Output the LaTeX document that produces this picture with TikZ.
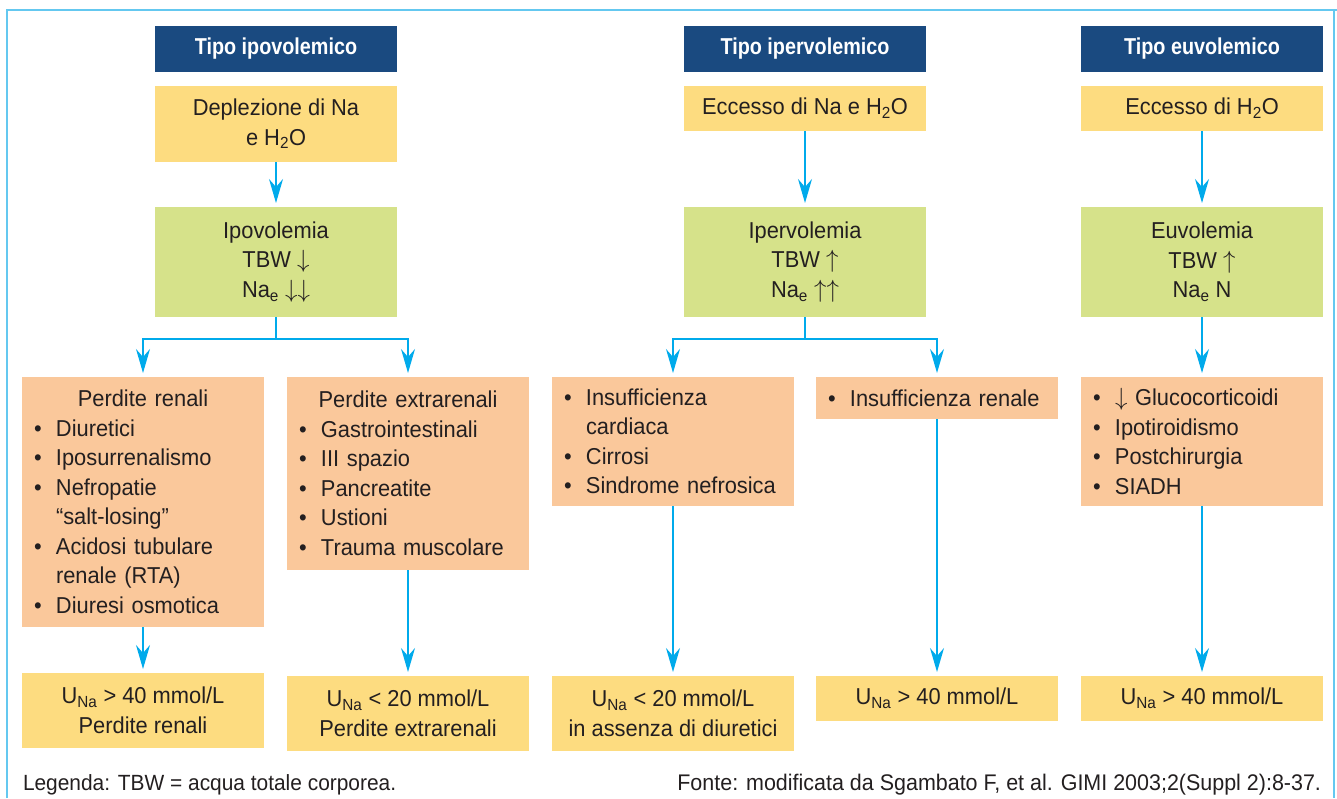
\documentclass[tikz,border=0pt]{standalone}
\usepackage{fontspec}
\setmainfont{Liberation Sans}[FakeStretch=0.95]
\newfontfamily\hdfont{Liberation Sans}[FakeStretch=0.86]
\usetikzlibrary{arrows.meta}
\definecolor{hdblue}{RGB}{26,74,128}
\definecolor{ybox}{RGB}{253,220,128}
\definecolor{gbox}{RGB}{214,226,138}
\definecolor{obox}{RGB}{250,200,155}
\definecolor{cyanarr}{RGB}{0,170,235}
\definecolor{framec}{RGB}{100,200,240}
\definecolor{txt}{RGB}{35,31,32}
\newcommand\bl{\makebox[22pt][l]{\textbullet}}
\newcommand\ind{\hspace*{22pt}}
\newcommand\dn{$\downarrow$}
\newcommand\up{$\uparrow$}
\begin{document}
\begin{tikzpicture}[x=1pt,y=-1pt,
  every node/.style={text=txt, font=\fontsize{23}{29.5}\selectfont, inner sep=0pt, outer sep=0pt},
  box/.style={anchor=north west, minimum width=242pt, align=center},
  hdbox/.style={box, fill=hdblue, minimum height=46pt, text=white, font=\hdfont\bfseries\fontsize{23}{28}\selectfont},
  ybx/.style={box, fill=ybox},
  gbx/.style={box, fill=gbox, minimum height=110pt},
  obx/.style={anchor=north west, fill=obox, text width=218pt, inner xsep=12pt, align=left},
  arr/.style={draw=cyanarr, line width=1.4pt, -{Stealth[length=24pt,width=14pt,inset=8pt]}, shorten >=4pt},
  framel/.style={draw=framec, line width=2pt},
  foot/.style={font=\fontsize{22}{26}\selectfont}
]
\useasboundingbox (0,0) rectangle (1337,798);
\draw[framel] (7,798) -- (7,10) -- (1337,10);
\draw[framel] (1334,10) -- (1334,798);

\node[hdbox] (H1) at (155,26) {Tipo ipovolemico};
\node[hdbox] (H2) at (684,26) {Tipo ipervolemico};
\node[hdbox] (H3) at (1081,26) {Tipo euvolemico};

\node[ybx, minimum height=76pt] (Y1) at (155,86) {Deplezione di Na\\e H\textsubscript{2}O};
\node[ybx, minimum height=45pt] (Y2) at (684,86) {Eccesso di Na e H\textsubscript{2}O};
\node[ybx, minimum height=45pt] (Y3) at (1081,86) {Eccesso di H\textsubscript{2}O};

\node[gbx] (G1) at (155,207) {Ipovolemia\\TBW \dn\\Na\textsubscript{e} \dn\dn};
\node[gbx] (G2) at (684,207) {Ipervolemia\\TBW \up\\Na\textsubscript{e} \up\up};
\node[gbx] (G3) at (1081,207) {Euvolemia\\TBW \up\\Na\textsubscript{e} N};

\node[obx, minimum height=250pt] (O1) at (22,377) {\makebox[218pt][c]{Perdite renali}\\\bl Diuretici\\\bl Iposurrenalismo\\\bl Nefropatie\\\ind “salt-losing”\\\bl Acidosi tubulare\\\ind renale (RTA)\\\bl Diuresi osmotica};
\node[obx, minimum height=193pt] (O2) at (287,377) {\makebox[218pt][c]{Perdite extrarenali}\\\bl Gastrointestinali\\\bl III spazio\\\bl Pancreatite\\\bl Ustioni\\\bl Trauma muscolare};
\node[obx, minimum height=129pt] (O3) at (552,377) {\bl Insufficienza\\\ind cardiaca\\\bl Cirrosi\\\bl Sindrome nefrosica};
\node[obx, minimum height=42pt] (O4) at (816,377) {\bl Insufficienza renale};
\node[obx, minimum height=129pt] (O5) at (1081,377) {\bl \dn\ Glucocorticoidi\\\bl Ipotiroidismo\\\bl Postchirurgia\\\bl SIADH};

\node[ybx, minimum height=75pt] (B1) at (22,673) {U\textsubscript{Na} > 40 mmol/L\\Perdite renali};
\node[ybx, minimum height=75pt] (B2) at (287,676) {U\textsubscript{Na} < 20 mmol/L\\Perdite extrarenali};
\node[ybx, minimum height=75pt] (B3) at (552,676) {U\textsubscript{Na} < 20 mmol/L\\in assenza di diuretici};
\node[ybx, minimum height=45pt] (B4) at (816,676) {U\textsubscript{Na} > 40 mmol/L};
\node[ybx, minimum height=45pt] (B5) at (1081,676) {U\textsubscript{Na} > 40 mmol/L};

\draw[arr] (Y1) -- (G1);
\draw[arr] (Y2) -- (G2);
\draw[arr] (Y3) -- (G3);
\draw[arr] (G1.south) -- ++(0,22) -| (O1.north);
\draw[arr] (G1.south) -- ++(0,22) -| (O2.north);
\draw[arr] (G2.south) -- ++(0,22) -| (O3.north);
\draw[arr] (G2.south) -- ++(0,22) -| (O4.north);
\draw[arr] (G3) -- (O5);
\draw[arr] (O1) -- (B1);
\draw[arr] (O2) -- (B2);
\draw[arr] (O3) -- (B3);
\draw[arr] (O4) -- (B4);
\draw[arr] (O5) -- (B5);

\node[foot, anchor=base west] (L) at (23,790) {Legenda: TBW = acqua totale corporea.};
\node[foot, anchor=base east, font=\fontsize{22.6}{26}\selectfont] (F) at (1321,790) {Fonte: modificata da Sgambato F, et al. GIMI 2003;2(Suppl 2):8-37.};
\end{tikzpicture}
\end{document}
